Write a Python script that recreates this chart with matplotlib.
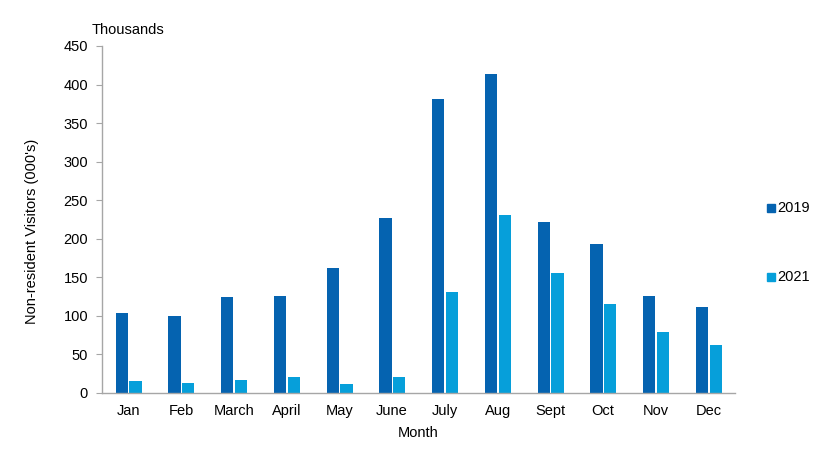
import numpy as np
import matplotlib.pyplot as plt
from matplotlib.lines import Line2D

plt.rcParams['font.family'] = ['Liberation Sans', 'DejaVu Sans']

months = ['Jan', 'Feb', 'March', 'April', 'May', 'June', 'July', 'Aug', 'Sept', 'Oct', 'Nov', 'Dec']
visitors_2019 = [104, 100, 125, 126, 162, 227, 381, 414, 222, 193, 126, 112]
visitors_2021 = [16, 13, 17, 21, 12, 21, 131, 231, 156, 115, 79, 62]
y_ticks = [0, 50, 100, 150, 200, 250, 300, 350, 400, 450]

dark = '#0563B0'
light = '#069FDA'
grey = '#A6A6A6'

fig = plt.figure(figsize=(8.32, 4.53), dpi=100)
ax = fig.add_axes([0.1226, 0.1325, 0.7608, 0.766])

x = np.arange(len(months))
w = 0.23
ax.bar(x - 0.125, visitors_2019, width=w, color=dark)
ax.bar(x + 0.135, visitors_2021, width=w, color=light)

ax.set_xlim(-0.5, len(months) - 0.5)
ax.set_ylim(0, 450)
ax.set_yticks(y_ticks)
ax.set_xticks(x)
ax.set_xticklabels(months)

for side in ['top', 'right']:
    ax.spines[side].set_visible(False)
for side in ['left', 'bottom']:
    ax.spines[side].set_color(grey)
    ax.spines[side].set_linewidth(1)

ax.tick_params(axis='y', direction='out', length=4, color=grey, labelsize=10.5, pad=6)
ax.tick_params(axis='x', length=0, labelsize=10.5, pad=8)

ax.set_xlabel('Month', fontsize=10.5, labelpad=6)
ax.set_ylabel("Non-resident Visitors (000's)", fontsize=10.5)
ax.yaxis.set_label_coords(-0.1, 0.465)
fig.text(92 / 832, 1 - 30 / 453, 'Thousands', fontsize=10.5, va='center', ha='left')

# legend placed manually at the right
fig.add_artist(Line2D([771 / 832], [1 - 208 / 453], marker='s', markersize=6,
                      color=dark, linestyle='none', transform=fig.transFigure))
fig.text(777 / 832, 1 - 208 / 453, '2019', fontsize=10.5, va='center', ha='left')
fig.add_artist(Line2D([771 / 832], [1 - 277 / 453], marker='s', markersize=6,
                      color=light, linestyle='none', transform=fig.transFigure))
fig.text(777 / 832, 1 - 277 / 453, '2021', fontsize=10.5, va='center', ha='left')

fig.savefig('out.png', dpi=100)
